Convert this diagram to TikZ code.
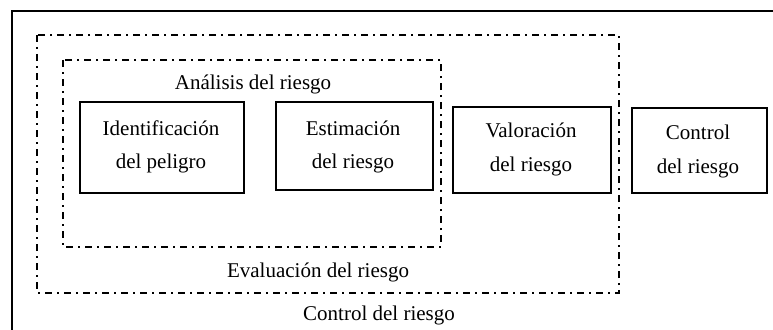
\documentclass[tikz,border=0pt]{standalone}
\usepackage{fontspec}
\setmainfont{Liberation Serif}
\begin{document}
\begin{tikzpicture}[x=1pt,y=-1pt,
  lbl/.style={font=\fontsize{21}{21}\selectfont, inner sep=0pt},
  stepbox/.style={draw, line width=2.2pt},
  dd/.style={draw, line width=2.2pt, dash pattern=on 7pt off 5pt on 2pt off 5pt}]
\useasboundingbox (0,0) rectangle (773,329);
\clip (0,0) rectangle (773,329);
\draw[line width=2.2pt] (12,340) -- (12,11) -- (790,11);
\path[dd] (37,35) rectangle (619,293);
\path[dd] (63,60) rectangle (441,247);
\node[stepbox, minimum width=164pt, minimum height=91pt, anchor=north west] (b1) at (79,101) {};
\node[stepbox, minimum width=157pt, minimum height=88pt, anchor=north west] (b2) at (275,101) {};
\node[stepbox, minimum width=158pt, minimum height=86pt, anchor=north west] (b3) at (452,106) {};
\node[stepbox, minimum width=135pt, minimum height=85pt, anchor=north west] (b4) at (631,107) {};
\node[lbl] (t1a) at (161,128) {Identificación};
\node[lbl] (t1b) at (161,163) {del peligro};
\node[lbl] (t2a) at (353,128) {Estimación};
\node[lbl] (t2b) at (353,163) {del riesgo};
\node[lbl] (t3a) at (531,130) {Valoración};
\node[lbl] (t3b) at (531,166) {del riesgo};
\node[lbl] (t4a) at (698,132) {Control};
\node[lbl] (t4b) at (698,168) {del riesgo};
\node[lbl] (ta) at (253,84) {Análisis del riesgo};
\node[lbl] (te) at (318,272) {Evaluación del riesgo};
\node[lbl] (tc) at (379,315) {Control del riesgo};
\end{tikzpicture}
\end{document}
